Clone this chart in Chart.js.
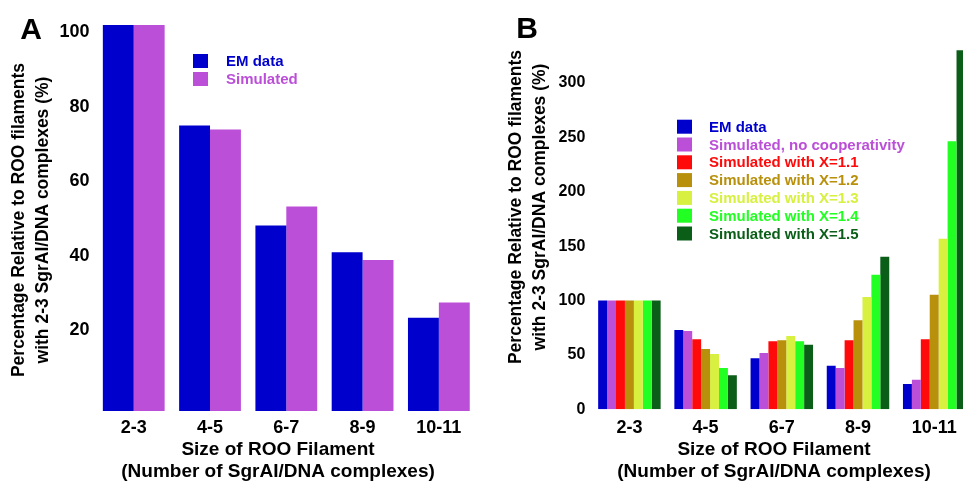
<!DOCTYPE html>
<html>
<head>
<meta charset="utf-8">
<script src="https://cdn.jsdelivr.net/npm/chart.js@4.4.1/dist/chart.umd.min.js"></script>
<style>
html, body { margin:0; padding:0; background:#fff; overflow:hidden; width:963px; height:483px; }
#graficoA { position:absolute; left:0; top:0; }
#graficoB { position:absolute; left:480px; top:0; }
</style>
</head>
<body>
<canvas id="graficoA" width="480" height="483"></canvas>
<canvas id="graficoB" width="500" height="483"></canvas>
<script>
//#Dados
let tamanhos = ['2-3', '4-5', '6-7', '8-9', '10-11']

// painel A
let emA = [102, 75, 48.1, 40.9, 23.3]
let simA = [102, 73.9, 53.2, 38.8, 27.4]
let ticksA = [20, 40, 60, 80, 100]

// painel B
let emB = [100, 72.9, 46.9, 40.1, 23.3]
let semCoop = [100, 72, 51.7, 38, 27.2]
let x11 = [100, 64.3, 62.5, 63.4, 64.3]
let x12 = [100, 55.4, 63.4, 81.8, 105.3]
let x13 = [100, 50.8, 67.4, 103.2, 156.8]
let x14 = [100, 38, 62.5, 123.7, 246.3]
let x15 = [100, 31.2, 59.4, 140.3, 330]
let ticksB = [0, 50, 100, 150, 200, 250, 300]

let tituloY = ['Percentage Relative to ROO filaments', 'with 2-3 SgrAI/DNA complexes (%)']
let tituloX = ['Size of ROO Filament', '(Number of SgrAI/DNA complexes)']

Chart.defaults.font.family = '"Liberation Sans", Arial, sans-serif'
Chart.defaults.color = '#000'

//desenha letra do painel, titulos dos eixos e a legenda
const decor = {
    id: 'decor',
    afterDraw(chart, args, op) {
        const ctx = chart.ctx
        ctx.save()
        ctx.fillStyle = '#000'
        ctx.textAlign = 'center'
        ctx.textBaseline = 'middle'
        ctx.font = 'bold 30px "Liberation Sans"'
        ctx.fillText(op.letra, op.letraX, op.letraY)

        ctx.font = 'bold 17.5px "Liberation Sans"'
        tituloY.forEach((linha, i) => {
            ctx.save()
            ctx.translate(op.yX[i], op.yCentro)
            ctx.rotate(-Math.PI / 2)
            ctx.fillText(linha, 0, 0)
            ctx.restore()
        })

        ctx.font = 'bold 19px "Liberation Sans"'
        tituloX.forEach((linha, i) => ctx.fillText(linha, op.xCentro, op.xY[i]))

        ctx.textAlign = 'left'
        ctx.font = 'bold 15px "Liberation Sans"'
        chart.data.datasets.forEach((ds, i) => {
            let y = op.legY + i * op.legPasso
            ctx.fillStyle = ds.backgroundColor
            ctx.fillRect(op.legX, y - 7, 15, 14)
            ctx.fillText(ds.label, op.legTextoX, y + 1)
        })
        ctx.restore()
    }
}

function eixos(min, max, marcas, largY, altX, padY, padX) {
    return {
        x: {
            grid: { display: false, drawTicks: false },
            border: { display: false },
            ticks: { font: { size: 18, weight: 'bold' }, padding: padX },
            afterFit: s => { s.height = altX }
        },
        y: {
            min: min,
            max: max,
            grid: { display: false, drawTicks: false },
            border: { display: false },
            ticks: { font: { size: padY.size, weight: 'bold' }, padding: padY.pad },
            afterBuildTicks: s => { s.ticks = marcas.map(v => ({ value: v })) },
            afterFit: s => { s.width = largY }
        }
    }
}

new Chart(document.getElementById('graficoA'), {
    type: 'bar',
    data: {
        labels: tamanhos,
        datasets: [
            { label: 'EM data', data: emA, backgroundColor: '#0000CC', base: -1.8 },
            { label: 'Simulated', data: simA, backgroundColor: '#BB4FD8', base: -1.8 }
        ]
    },
    options: {
        responsive: false,
        animation: false,
        layout: { padding: { top: 25, right: 3, left: 0, bottom: 0 } },
        datasets: { bar: { categoryPercentage: 0.81, barPercentage: 1, borderWidth: 0 } },
        scales: eixos(-1.8, 102, ticksA, 95.6, 72, { size: 18, pad: 6 }, 6),
        plugins: {
            legend: { display: false },
            tooltip: { enabled: false },
            decor: {
                letra: 'A', letraX: 31, letraY: 31,
                yX: [19.5, 43], yCentro: 220,
                xCentro: 278, xY: [450, 472],
                legX: 193, legY: 61, legPasso: 18, legTextoX: 226
            }
        }
    },
    plugins: [decor]
})

new Chart(document.getElementById('graficoB'), {
    type: 'bar',
    data: {
        labels: tamanhos,
        datasets: [
            { label: 'EM data', data: emB, backgroundColor: '#0000CC' },
            { label: 'Simulated, no cooperativity', data: semCoop, backgroundColor: '#BB4FD8' },
            { label: 'Simulated with X=1.1', data: x11, backgroundColor: '#FF0A0A' },
            { label: 'Simulated with X=1.2', data: x12, backgroundColor: '#B8900C' },
            { label: 'Simulated with X=1.3', data: x13, backgroundColor: '#D8F040' },
            { label: 'Simulated with X=1.4', data: x14, backgroundColor: '#22FF22' },
            { label: 'Simulated with X=1.5', data: x15, backgroundColor: '#0B5E18' }
        ]
    },
    options: {
        responsive: false,
        animation: false,
        layout: { padding: { top: 39.4, right: 7.7, left: 0, bottom: 0 } },
        datasets: { bar: { categoryPercentage: 0.82, barPercentage: 1, borderWidth: 0 } },
        scales: eixos(0, 340, ticksB, 111.3, 73.7, { size: 16, pad: 6 }, 8),
        plugins: {
            legend: { display: false },
            tooltip: { enabled: false },
            decor: {
                letra: 'B', letraX: 47, letraY: 30,
                yX: [36, 60], yCentro: 207,
                xCentro: 294, xY: [450, 472],
                legX: 197, legY: 126.7, legPasso: 17.8, legTextoX: 229
            }
        }
    },
    plugins: [decor]
})
</script>
</body>
</html>
